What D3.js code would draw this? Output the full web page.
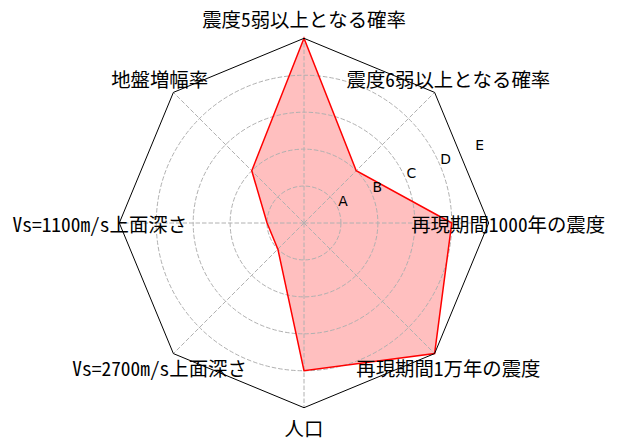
<!DOCTYPE html>
<html>
<head>
<meta charset="utf-8">
<script src="https://cdn.jsdelivr.net/npm/d3@7"></script>
<style>
  body { margin: 0; background: #fff; }
  .lbl { font-family: "Noto Sans Mono CJK JP", "Noto Sans CJK JP", sans-serif; font-size: 19.4px; fill: #000; }
  .rt { font-family: "DejaVu Sans", sans-serif; font-size: 13.9px; fill: #000; }
</style>
</head>
<body>
<svg id="chart" width="618" height="446"></svg>
<script>
// categories, clockwise from the top
const categories = [
  "震度5弱以上となる確率",
  "震度6弱以上となる確率",
  "再現期間1000年の震度",
  "再現期間1万年の震度",
  "人口",
  "Vs=2700m/s上面深さ",
  "Vs=1100m/s上面深さ",
  "地盤増幅率"
];
const values = [5, 2, 4, 5, 4, 1, 1, 2];
const rTicks = [1, 2, 3, 4, 5];
const rTickLabels = ["A", "B", "C", "D", "E"];

const cx = 304, cy = 223;
const rMax = 184.7;

const svg = d3.select("#chart");
const g = svg.append("g").attr("transform", `translate(${cx},${cy})`);

const rScale = d3.scaleLinear().domain([0, 5]).range([0, rMax]);
const aScale = d3.scaleLinear().domain([0, categories.length]).range([0, 2 * Math.PI]);

const pt = (a, r) => [r * Math.sin(a), -r * Math.cos(a)];

// data fill
const radial = d3.lineRadial()
  .angle((d, i) => aScale(i))
  .radius((d) => rScale(d))
  .curve(d3.curveLinearClosed);

g.append("path")
  .datum(values)
  .attr("fill", "rgba(255,0,0,0.25)")
  .attr("stroke", "none")
  .attr("d", radial);

// grid circles (outer one is hidden by the frame)
g.selectAll("circle.grid")
  .data(rTicks.slice(0, -1))
  .join("circle")
  .attr("r", (d) => rScale(d))
  .attr("fill", "none")
  .attr("stroke", "#b0b0b0")
  .attr("stroke-width", 1)
  .attr("stroke-dasharray", "4.5,2");

// spokes
g.selectAll("line.spoke")
  .data(categories)
  .join("line")
  .attr("x1", 0).attr("y1", 0)
  .attr("x2", (d, i) => pt(aScale(i), rScale(5))[0])
  .attr("y2", (d, i) => pt(aScale(i), rScale(5))[1])
  .attr("stroke", "#b0b0b0")
  .attr("stroke-width", 1)
  .attr("stroke-dasharray", "4.5,2");

// data outline
g.append("path")
  .datum(values)
  .attr("fill", "none")
  .attr("stroke", "red")
  .attr("stroke-width", 1.5)
  .attr("stroke-linejoin", "miter")
  .attr("d", radial);

// octagon frame
g.append("path")
  .datum(categories.map(() => 5))
  .attr("fill", "none")
  .attr("stroke", "#000")
  .attr("stroke-width", 1)
  .attr("d", radial);

// radial tick labels at 22.5 degrees
const tickAngle = Math.PI / 2 - Math.PI / 8;
g.selectAll("text.rt")
  .data(rTicks)
  .join("text")
  .attr("class", "rt")
  .attr("x", (d, i) => pt(tickAngle, rScale(d))[0] + 5)
  .attr("y", (d, i) => pt(tickAngle, rScale(d))[1] - 7.5)
  .attr("text-anchor", "middle")
  .attr("dominant-baseline", "central")
  .text((d, i) => rTickLabels[i]);

// category labels
g.selectAll("text.lbl")
  .data(categories)
  .join("text")
  .attr("class", "lbl")
  .attr("x", (d, i) => pt(aScale(i), rMax + 19.5)[0])
  .attr("y", (d, i) => pt(aScale(i), rMax + 19.5)[1])
  .attr("text-anchor", "middle")
  .attr("dominant-baseline", "central")
  .text((d) => d);
</script>
</body>
</html>
